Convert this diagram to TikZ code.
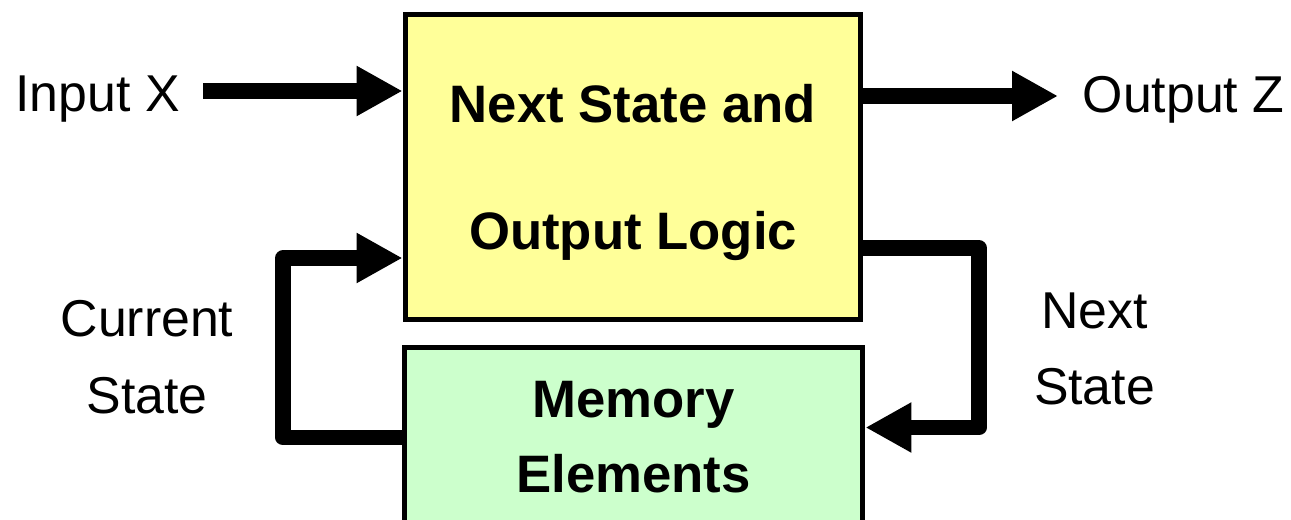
\documentclass[tikz,border=0pt]{standalone}
\usepackage{fontspec}
\setmainfont{Liberation Sans}
\usetikzlibrary{arrows.meta,positioning,calc}

\definecolor{logicfill}{HTML}{FFFF99}
\definecolor{memfill}{HTML}{CCFFCC}

\tikzset{
  block/.style={draw, line width=2.85pt, align=center, inner sep=0pt},
  lbl/.style={inner sep=0pt, align=center},
  bigarrow/.style={line width=9pt, line join=round, -{Triangle[length=0.92cm,width=0.94cm]}},
}

\begin{document}
\begin{tikzpicture}[x=0.02cm,y=-0.02cm]
\useasboundingbox (0,0) rectangle (1291,520);
% the two blocks
\node[block, fill=logicfill, minimum width=9.12cm, minimum height=6.12cm, text depth=0pt,
      font=\fontsize{30}{72}\selectfont\bfseries] (logic) at (633,167) {Next State and\\Output Logic};
\node[block, fill=memfill, minimum width=9.18cm, minimum height=3.6cm,
      font=\fontsize{30}{42.7}\selectfont\bfseries] (mem) at (633.5,437.5) {Memory\\Elements};
% labels
\node[lbl, anchor=base, font=\fontsize{29.5}{38}\selectfont] (inX) at (97.5,112) {Input X};
\node[lbl, anchor=base, font=\fontsize{29.5}{38}\selectfont] (outZ) at (1183.5,113) {Output Z};
\node[lbl, font=\fontsize{29.5}{44}\selectfont] (cur) at (147,357) {Current\\State};
\node[lbl, font=\fontsize{29.5}{43.5}\selectfont] (nxt) at (1094.5,349) {Next\\State};
% arrows
\coordinate (inStart) at (203,91);
\coordinate (outEnd) at (1058,96);
\draw[bigarrow] (inStart) -- (inStart -| logic.west);
\draw[bigarrow] (outEnd -| logic.east) -- (outEnd);
\draw[bigarrow] (mem.west) -- ++(-118.5,0) |- ($(logic.west)+(0,91)$);
\draw[bigarrow] ($(logic.east)+(0,81)$) -- ++(115.5,0) |- ($(mem.east)+(0,-10)$);
\end{tikzpicture}
\end{document}
